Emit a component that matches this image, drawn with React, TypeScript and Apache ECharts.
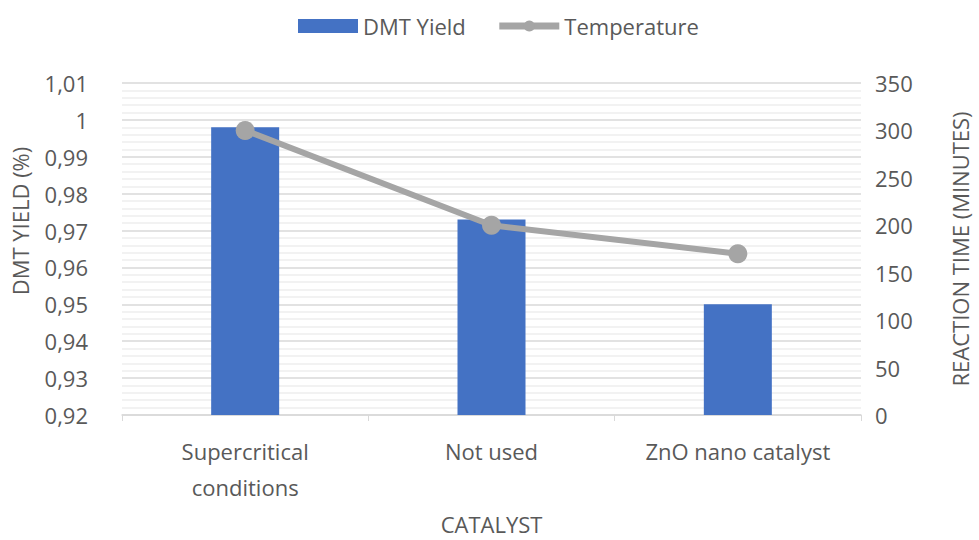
import React, { useEffect, useRef } from "react";
import * as echarts from "echarts";

const categories = ["Supercritical\nconditions", "Not used", "ZnO nano catalyst"];
const dmtYield = [0.998, 0.973, 0.95];
const temperature = [300, 200, 170];

const FONT = "'Open Sans', 'Noto Sans', sans-serif";
const TEXT = "#595959";
const FS = 22;

const fmtComma = (v: number) => String(Math.round(v * 1000) / 1000).replace(".", ",");

export default function App() {
  const ref = useRef<HTMLDivElement>(null);

  useEffect(() => {
    if (!ref.current) return;
    const chart = echarts.init(ref.current, null, { renderer: "svg" });
    chart.setOption({
      animation: false,
      textStyle: { fontFamily: FONT, color: TEXT },
      legend: {
        top: 10,
        left: 293,
        itemGap: 30,
        itemWidth: 60,
        itemHeight: 14,
        textStyle: { fontFamily: FONT, fontSize: FS, color: TEXT },
        data: [
          { name: "DMT Yield", icon: "rect", itemStyle: { color: "#4472c4" } },
          { name: "Temperature", lineStyle: { width: 7, color: "#a5a5a5" } },
        ],
      },
      grid: { left: 122, right: 113, top: 83, bottom: 122 },
      xAxis: {
        type: "category",
        data: categories,
        name: "CATALYST",
        nameLocation: "middle",
        nameGap: 98,
        nameTextStyle: { fontFamily: FONT, fontSize: FS, color: TEXT },
        axisLine: { lineStyle: { color: "#d9d9d9", width: 1.5 } },
        axisTick: { show: true, length: 6, lineStyle: { color: "#d9d9d9" } },
        axisLabel: { fontFamily: FONT, fontSize: FS, color: TEXT, margin: 18, lineHeight: 36 },
      },
      yAxis: [
        {
          type: "value",
          min: 0.92,
          max: 1.01,
          interval: 0.01,
          name: "DMT YIELD (%)",
          nameLocation: "middle",
          nameGap: 91,
          nameRotate: 90,
          nameTextStyle: { fontFamily: FONT, fontSize: FS, color: TEXT, padding: [0, 0, 0, 56] },
          axisLine: { show: false },
          axisTick: { show: false },
          axisLabel: { fontFamily: FONT, fontSize: FS, color: TEXT, margin: 34, formatter: fmtComma },
          splitLine: { show: true, lineStyle: { color: "#d9d9d9", width: 1.5 } },
          minorTick: { show: false, splitNumber: 5 },
          minorSplitLine: { show: true, lineStyle: { color: "#eeeeee", width: 1.5 } },
        },
        {
          type: "value",
          min: 0,
          max: 350,
          interval: 50,
          name: "REACTION TIME (MINUTES)",
          nameLocation: "middle",
          nameGap: 88,
          nameRotate: 90,
          nameTextStyle: { fontFamily: FONT, fontSize: FS, color: TEXT },
          axisLine: { show: false },
          axisTick: { show: false },
          axisLabel: { fontFamily: FONT, fontSize: FS, color: TEXT, margin: 14 },
          splitLine: { show: false },
        },
      ],
      series: [
        {
          name: "DMT Yield",
          type: "bar",
          yAxisIndex: 0,
          data: dmtYield,
          barWidth: 68,
          itemStyle: { color: "#4472c4" },
        },
        {
          name: "Temperature",
          type: "line",
          yAxisIndex: 1,
          data: temperature,
          symbol: "circle",
          symbolSize: 19,
          lineStyle: { color: "#a5a5a5", width: 6 },
          itemStyle: { color: "#a5a5a5" },
        },
      ],
    });
    return () => chart.dispose();
  }, []);

  return <div ref={ref} style={{ width: 979, height: 540, position: "absolute", left: 0, top: 0, background: "#fff" }} />;
}
